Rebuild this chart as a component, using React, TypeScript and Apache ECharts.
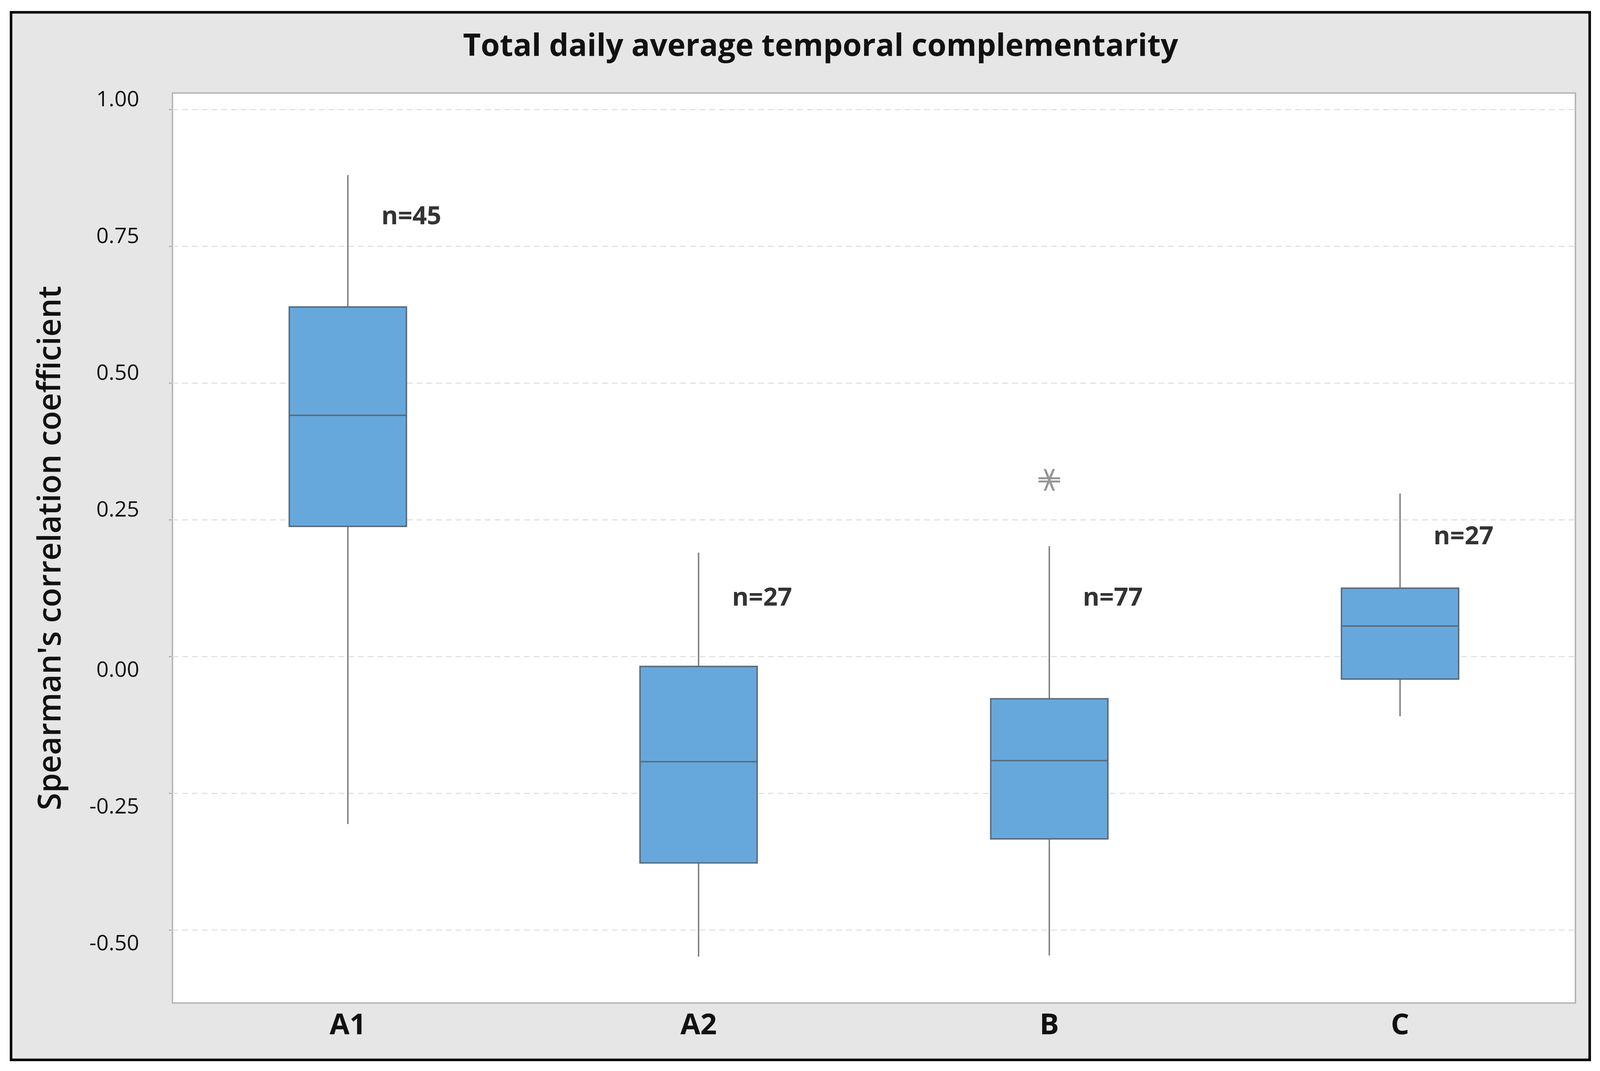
import React, { useEffect, useRef } from 'react';
import * as echarts from 'echarts';

const categories = ['A1', 'A2', 'B', 'C'];
const whiskerLow = [-0.306, -0.548, -0.546, -0.109];
const q1 = [0.238, -0.377, -0.333, -0.041];
const median = [0.441, -0.192, -0.19, 0.056];
const q3 = [0.639, -0.018, -0.077, 0.125];
const whiskerHigh = [0.88, 0.19, 0.202, 0.298];
const outlierCats = ['B'];
const outlierValues = [0.323];
const nCounts = [45, 27, 77, 27];
const nLabelY = [0.808, 0.111, 0.111, 0.223];
const yTicks = [-0.5, -0.25, 0, 0.25, 0.5, 0.75, 1.0];
const yMin = -0.633;
const yMax = 1.03;

const titleText = 'Total daily average temporal complementarity';
const yName = "Spearman's correlation coefficient";

const FONT = '"Open Sans", "Noto Sans", sans-serif';
const BW = 4425;
const BH = 2741;

export default function App() {
  const ref = useRef<HTMLDivElement>(null);
  useEffect(() => {
    const el = ref.current;
    if (!el) return;
    const w = el.clientWidth || BW;
    const h = el.clientHeight || BH;
    const sx = w / BW;
    const sy = h / BH;
    const s = Math.min(sx, sy);
    const X = (v: number) => v * sx;
    const Y = (v: number) => v * sy;
    const F = (v: number) => v * s;
    const chart = echarts.init(el, undefined, { renderer: 'svg' });
    const boxData = categories.map((c, i) => [i, whiskerLow[i], q1[i], median[i], q3[i], whiskerHigh[i]]);
    const asterisk =
      'path://M0 38 L100 38 L100 47 L0 47 Z M0 53 L100 53 L100 62 L0 62 Z M24 0 L35 0 L76 100 L65 100 Z M65 0 L76 0 L35 100 L24 100 Z';
    const option: any = {
      animation: false,
      backgroundColor: '#ffffff',
      textStyle: { fontFamily: FONT },
      title: {
        text: titleText,
        left: X(2264),
        top: Y(68),
        textAlign: 'center',
        textStyle: { fontFamily: FONT, fontSize: F(85), fontWeight: 'bold', color: '#111' },
      },
      graphic: [
        {
          type: 'rect',
          z: -100,
          silent: true,
          shape: { x: X(30.5), y: Y(31.5), width: X(4366), height: Y(2681) },
          style: { fill: '#e6e6e6', stroke: '#000', lineWidth: F(7) },
        },
      ],
      grid: {
        left: X(477),
        right: X(68),
        top: Y(238),
        bottom: Y(174),
        show: true,
        backgroundColor: '#ffffff',
        borderColor: '#b4b4b4',
        borderWidth: F(4),
        containLabel: false,
      },
      xAxis: {
        type: 'category',
        data: categories,
        boundaryGap: true,
        axisLine: { show: false },
        axisTick: { show: true, alignWithLabel: true, length: Y(26), lineStyle: { color: '#a8a8a8', width: F(3) } },
        axisLabel: { fontFamily: FONT, fontSize: F(80), fontWeight: 'bold', color: '#111', margin: Y(14) },
        splitLine: { show: false },
      },
      yAxis: {
        type: 'value',
        min: yMin,
        max: yMax,
        name: yName,
        nameLocation: 'middle',
        nameRotate: 90,
        nameGap: X(300),
        nameTextStyle: { fontFamily: FONT, fontSize: 81 * sy, fontWeight: 600, color: '#111' },
        axisLine: { show: false },
        axisTick: { show: true, customValues: yTicks, length: X(10), lineStyle: { color: '#b0b0b0', width: F(3) } },
        axisLabel: {
          customValues: yTicks,
          margin: X(92),
          fontFamily: FONT,
          fontSize: F(60),
          color: '#111',
          formatter: (v: number) => (v > 0 ? `{u|${v.toFixed(2)}}` : `{d|${v.toFixed(2)}}`),
          rich: {
            u: { fontFamily: FONT, fontSize: F(60), color: '#111', padding: [0, 0, Y(60), 0] },
            d: { fontFamily: FONT, fontSize: F(60), color: '#111', padding: [Y(60), 0, 0, 0] },
          },
        },
        splitLine: { show: false },
      },
      series: [
        {
          type: 'scatter',
          name: 'n',
          z: 1,
          symbolSize: 1,
          itemStyle: { color: 'rgba(0,0,0,0)' },
          data: categories.map((c, i) => [c, nLabelY[i]]),
          label: {
            show: true,
            position: 'right',
            distance: X(92),
            fontFamily: FONT,
            fontSize: F(70),
            fontWeight: 'bold',
            color: '#000',
            formatter: (p: any) => 'n=' + nCounts[p.dataIndex],
          },
          markLine: {
            silent: true,
            z: 1,
            symbol: 'none',
            label: { show: false },
            lineStyle: { color: '#e2e2e2', width: F(3), type: [F(16), F(11)] },
            data: yTicks.map((v) => ({ yAxis: v })),
          },
        },
        {
          type: 'custom',
          name: 'box',
          z: 3,
          data: boxData,
          encode: { x: 0, y: [1, 2, 3, 4, 5] },
          renderItem: (params: any, api: any) => {
            const idx = api.value(0);
            const pLow = api.coord([idx, api.value(1)]);
            const pQ1 = api.coord([idx, api.value(2)]);
            const pMed = api.coord([idx, api.value(3)]);
            const pQ3 = api.coord([idx, api.value(4)]);
            const pHigh = api.coord([idx, api.value(5)]);
            const band = api.size([1, 0])[0];
            const bw = band * 0.334;
            const cx = pQ1[0];
            const whisk = { stroke: '#808080', lineWidth: F(4) };
            return {
              type: 'group',
              children: [
                { type: 'line', shape: { x1: cx, y1: pHigh[1], x2: cx, y2: pQ3[1] }, style: whisk },
                { type: 'line', shape: { x1: cx, y1: pQ1[1], x2: cx, y2: pLow[1] }, style: whisk },
                {
                  type: 'rect',
                  shape: { x: cx - bw / 2, y: pQ3[1], width: bw, height: pQ1[1] - pQ3[1] },
                  style: { fill: '#67a8dc', stroke: '#596b7c', lineWidth: F(4) },
                },
                {
                  type: 'line',
                  shape: { x1: cx - bw / 2, y1: pMed[1], x2: cx + bw / 2, y2: pMed[1] },
                  style: { stroke: '#596b7c', lineWidth: F(4) },
                },
              ],
            };
          },
        },
        {
          type: 'scatter',
          name: 'outlier',
          z: 4,
          symbol: asterisk,
          symbolSize: F(60),
          itemStyle: { color: '#7a7a7a' },
          data: outlierCats.map((c, i) => [c, outlierValues[i]]),
        },
      ],
    };
    chart.setOption(option);
    return () => chart.dispose();
  }, []);
  return <div ref={ref} style={{ position: 'fixed', left: 0, top: 0, width: '100vw', height: '100vh' }} />;
}
